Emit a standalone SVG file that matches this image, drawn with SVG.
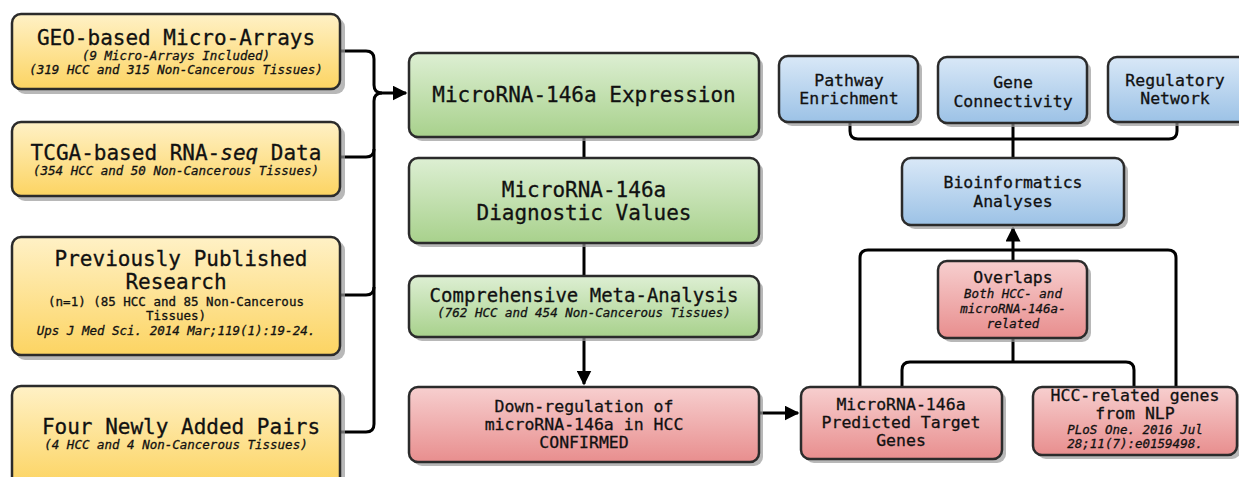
<svg xmlns="http://www.w3.org/2000/svg" width="1239" height="477" viewBox="0 0 1239 477">
<style>
.t{font-family:"DejaVu Sans Mono","Liberation Mono",monospace;fill:#111;stroke:#111;stroke-width:0.3;text-anchor:middle}
.big{font-size:21px}
.mid{font-size:16.5px}
.sm{font-size:12.5px}
.it{font-style:italic}
.box{stroke:#2b2b2b;stroke-width:2.5}
.y{fill:url(#gy)}
.g{fill:url(#gg)}
.b{fill:url(#gb)}
.r{fill:url(#gr)}
.sh{fill:#9a9a9a;opacity:0.7}
.ln{fill:none;stroke:#000;stroke-width:3;stroke-linejoin:round}
</style>
<defs>
<linearGradient id="gy" x1="0" y1="0" x2="0" y2="1"><stop offset="0" stop-color="#FFF1C6"/><stop offset="1" stop-color="#FCD462"/></linearGradient>
<linearGradient id="gg" x1="0" y1="0" x2="0" y2="1"><stop offset="0" stop-color="#DDEFD3"/><stop offset="1" stop-color="#A8D18C"/></linearGradient>
<linearGradient id="gb" x1="0" y1="0" x2="0" y2="1"><stop offset="0" stop-color="#D9E8F7"/><stop offset="1" stop-color="#9CC2E6"/></linearGradient>
<linearGradient id="gr" x1="0" y1="0" x2="0" y2="1"><stop offset="0" stop-color="#F7CFCF"/><stop offset="1" stop-color="#E88E8E"/></linearGradient>
<marker id="ah" viewBox="0 0 10 10" refX="9" refY="5" markerWidth="5" markerHeight="5" orient="auto" markerUnits="strokeWidth"><path d="M0,0 L10,5 L0,10 z" fill="#000"/></marker>
</defs>
<rect width="1239" height="477" fill="#fff"/>

<g id="connectors">
<path class="ln" d="M340,51 H366 Q374,51 374,59 V85 Q374,93 382,93 H406" marker-end="url(#ah)"/>
<path class="ln" d="M340,432 H366 Q374,432 374,424 V101 Q374,93 382,93"/>
<path class="ln" d="M340,157 H366 Q374,157 374,149"/>
<path class="ln" d="M340,295 H366 Q374,295 374,287"/>
<path class="ln" d="M584,137 V158"/>
<path class="ln" d="M584,243 V276"/>
<path class="ln" d="M584,337 V384" marker-end="url(#ah)"/>
<path class="ln" d="M759,413 H798" marker-end="url(#ah)"/>
<path class="ln" d="M850,122 V131 Q850,139 858,139 H1169 Q1177,139 1177,131 V122"/>
<path class="ln" d="M1013,123 V158"/>
<path class="ln" d="M860,387 V258 Q860,250 868,250 H1168 Q1176,250 1176,258 V387"/>
<path class="ln" d="M1013,261 V228" marker-end="url(#ah)"/>
<path class="ln" d="M902,387 V370 Q902,362 910,362 H1126 Q1134,362 1134,370 V387"/>
<path class="ln" d="M1013,338 V362"/>
</g>

<g id="geo">
<rect class="sh" x="16" y="18" width="329" height="76" rx="9"/>
<rect class="box y" x="12" y="14" width="328" height="75" rx="9"/>
<text class="t big" x="176" y="45">GEO-based Micro-Arrays</text>
<text class="t sm it" x="176" y="60">(9 Micro-Arrays Included)</text>
<text class="t sm it" x="176" y="74">(319 HCC and 315 Non-Cancerous Tissues)</text>
</g>

<g id="tcga">
<rect class="sh" x="16" y="126" width="329" height="75" rx="9"/>
<rect class="box y" x="12" y="122" width="328" height="74" rx="9"/>
<text class="t big" x="176" y="160">TCGA-based RNA-<tspan class="it">seq</tspan> Data</text>
<text class="t sm it" x="176" y="175">(354 HCC and 50 Non-Cancerous Tissues)</text>
</g>

<g id="published">
<rect class="sh" x="16" y="241" width="329" height="119" rx="9"/>
<rect class="box y" x="12" y="237" width="328" height="118" rx="9"/>
<text class="t big" x="181" y="266">Previously Published</text>
<text class="t big" x="176" y="289">Research</text>
<text class="t sm" x="176" y="306">(n=1) (85 HCC and 85 Non-Cancerous</text>
<text class="t sm" x="176" y="320">Tissues)</text>
<text class="t sm it" x="176" y="335">Ups J Med Sci. 2014 Mar;119(1):19-24.</text>
</g>

<g id="fourpairs">
<rect class="sh" x="16" y="390" width="329" height="100" rx="9"/>
<rect class="box y" x="12" y="386" width="328" height="100" rx="9"/>
<text class="t big" x="181" y="434">Four Newly Added Pairs</text>
<text class="t sm it" x="176" y="449">(4 HCC and 4 Non-Cancerous Tissues)</text>
</g>

<g id="expression">
<rect class="sh" x="413" y="57" width="350" height="84" rx="9"/>
<rect class="box g" x="409" y="53" width="350" height="84" rx="9"/>
<text class="t big" x="584" y="102">MicroRNA-146a Expression</text>
</g>

<g id="diagnostic">
<rect class="sh" x="413" y="162" width="350" height="85" rx="9"/>
<rect class="box g" x="409" y="158" width="350" height="85" rx="9"/>
<text class="t big" x="584" y="197">MicroRNA-146a</text>
<text class="t big" x="584" y="220">Diagnostic Values</text>
</g>

<g id="meta">
<rect class="sh" x="413" y="280" width="350" height="61" rx="9"/>
<rect class="box g" x="409" y="276" width="350" height="61" rx="9"/>
<text class="t" style="font-size:19px" x="584" y="302">Comprehensive Meta-Analysis</text>
<text class="t sm it" x="584" y="317">(762 HCC and 454 Non-Cancerous Tissues)</text>
</g>

<g id="downreg">
<rect class="sh" x="413" y="391" width="350" height="75" rx="9"/>
<rect class="box r" x="409" y="387" width="350" height="75" rx="9"/>
<text class="t mid" x="584" y="412">Down-regulation of</text>
<text class="t mid" x="584" y="430">microRNA-146a in HCC</text>
<text class="t mid" x="584" y="448">CONFIRMED</text>
</g>

<g id="pathway">
<rect class="sh" x="783" y="60" width="139" height="66" rx="9"/>
<rect class="box b" x="779" y="56" width="139" height="66" rx="9"/>
<text class="t mid" x="849" y="86">Pathway</text>
<text class="t mid" x="849" y="104">Enrichment</text>
</g>

<g id="gene">
<rect class="sh" x="942" y="61" width="149" height="66" rx="9"/>
<rect class="box b" x="938" y="57" width="149" height="66" rx="9"/>
<text class="t mid" x="1013" y="88">Gene</text>
<text class="t mid" x="1013" y="107">Connectivity</text>
</g>

<g id="regulatory">
<rect class="sh" x="1112" y="61" width="140" height="65" rx="9"/>
<rect class="box b" x="1108" y="57" width="140" height="65" rx="9"/>
<text class="t mid" x="1175" y="86">Regulatory</text>
<text class="t mid" x="1175" y="104">Network</text>
</g>

<g id="bioinformatics">
<rect class="sh" x="906" y="162" width="222" height="67" rx="9"/>
<rect class="box b" x="902" y="158" width="222" height="67" rx="9"/>
<text class="t mid" x="1013" y="188">Bioinformatics</text>
<text class="t mid" x="1013" y="207">Analyses</text>
</g>

<g id="overlaps">
<rect class="sh" x="942" y="265" width="149" height="77" rx="9"/>
<rect class="box r" x="938" y="261" width="149" height="77" rx="9"/>
<text class="t mid" x="1013" y="283">Overlaps</text>
<text class="t sm it" x="1013" y="298">Both HCC- and</text>
<text class="t sm it" x="1013" y="313">microRNA-146a-</text>
<text class="t sm it" x="1013" y="328">related</text>
</g>

<g id="predicted">
<rect class="sh" x="805" y="391" width="201" height="72" rx="9"/>
<rect class="box r" x="801" y="387" width="201" height="72" rx="9"/>
<text class="t mid" x="901" y="410">MicroRNA-146a</text>
<text class="t mid" x="901" y="428">Predicted Target</text>
<text class="t mid" x="901" y="446">Genes</text>
</g>

<g id="nlp">
<rect class="sh" x="1037" y="391" width="204" height="68" rx="9"/>
<rect class="box r" x="1033" y="387" width="204" height="68" rx="9"/>
<text class="t mid" x="1135" y="401">HCC-related genes</text>
<text class="t mid" x="1135" y="419">from NLP</text>
<text class="t sm it" x="1135" y="434">PLoS One. 2016 Jul</text>
<text class="t sm it" x="1135" y="448">28;11(7):e0159498.</text>
</g>
</svg>
